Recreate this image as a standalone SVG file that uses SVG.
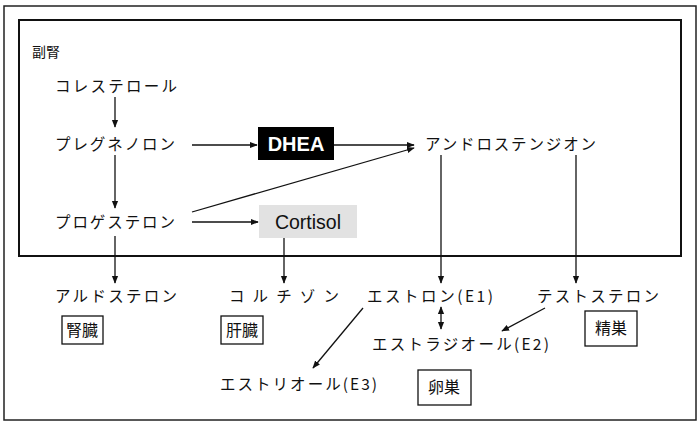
<svg xmlns="http://www.w3.org/2000/svg" width="700" height="426" viewBox="0 0 700 426">
<defs>
<style>
text{font-family:"Noto Sans CJK JP","Liberation Sans",sans-serif;font-size:15.5px;fill:#111}
.en{font-family:"Liberation Sans",Arial,sans-serif}
.ln{stroke:#111;stroke-width:1.3;fill:none}
.bx{fill:#fff;stroke:#111;stroke-width:1.3}
</style>
<marker id="ah" viewBox="0 0 10 10" refX="9" refY="5" markerWidth="6" markerHeight="6" orient="auto-start-reverse"><path d="M0,1 L10,5 L0,9 z" fill="#111"/></marker>
</defs>
<rect x="0" y="0" width="700" height="426" fill="#fff"/>
<rect x="4" y="6" width="692" height="414" fill="none" stroke="#222" stroke-width="1.5"/>
<rect x="19" y="20" width="662" height="236" fill="none" stroke="#111" stroke-width="2"/>
<g id="adrenal"><text x="32" y="57" style="font-size:14px">副腎</text></g>
<g id="cholesterol"><text x="55" y="92" textLength="122">コレステロール</text></g>
<g id="pregnenolone"><text x="55" y="150" textLength="120">プレグネノロン</text></g>
<g id="progesterone"><text x="55" y="228" textLength="120">プロゲステロン</text></g>
<g id="dhea"><rect x="258" y="127" width="76" height="33" fill="#000"/><text class="en" x="296" y="151" text-anchor="middle" style="font-size:20px;fill:#fff;font-weight:bold">DHEA</text></g>
<g id="cortisol"><rect x="259" y="205" width="98" height="33" fill="#e2e2e2"/><text class="en" x="308" y="229" text-anchor="middle" style="font-size:19.5px">Cortisol</text></g>
<g id="androstenedione"><text x="425" y="150" textLength="171">アンドロステンジオン</text></g>
<g id="aldosterone"><text x="55" y="302" textLength="122">アルドステロン</text><rect class="bx" x="62" y="316" width="41" height="28"/><text x="82" y="336" text-anchor="middle" style="font-size:16px">腎臓</text></g>
<g id="cortisone"><text x="229" y="302" textLength="110">コルチゾン</text><rect class="bx" x="221" y="316" width="42" height="28"/><text x="242" y="336" text-anchor="middle" style="font-size:16px">肝臓</text></g>
<g id="estrone"><text x="367" y="302" textLength="126">エストロン(E1)</text></g>
<g id="testosterone"><text x="537" y="302" textLength="122">テストステロン</text><rect class="bx" x="585" y="311" width="52" height="35"/><text x="611" y="334" text-anchor="middle" style="font-size:16px">精巣</text></g>
<g id="estradiol"><text x="372" y="350" textLength="177">エストラジオール(E2)</text></g>
<g id="estriol"><text x="220" y="390" textLength="157">エストリオール(E3)</text></g>
<g id="ovary"><rect class="bx" x="418" y="370" width="53" height="35"/><text x="444" y="393" text-anchor="middle" style="font-size:16px">卵巣</text></g>
<g id="connectors" class="ln">
<line x1="115" y1="97" x2="115" y2="127" marker-end="url(#ah)"/>
<line x1="115" y1="155" x2="115" y2="208" marker-end="url(#ah)"/>
<line x1="192" y1="145" x2="257" y2="145" marker-end="url(#ah)"/>
<line x1="334" y1="145" x2="414" y2="145" marker-end="url(#ah)"/>
<line x1="192" y1="212" x2="414" y2="148" marker-end="url(#ah)"/>
<line x1="192" y1="222" x2="258" y2="222" marker-end="url(#ah)"/>
<line x1="115" y1="236" x2="115" y2="283" marker-end="url(#ah)"/>
<line x1="284" y1="238" x2="284" y2="283" marker-end="url(#ah)"/>
<line x1="441" y1="155" x2="441" y2="283" marker-end="url(#ah)"/>
<line x1="576" y1="155" x2="576" y2="283" marker-end="url(#ah)"/>
<line x1="441" y1="307" x2="441" y2="329" marker-start="url(#ah)" marker-end="url(#ah)"/>
<line x1="545" y1="308" x2="502" y2="331" marker-end="url(#ah)"/>
<line x1="363" y1="308" x2="313" y2="368" marker-end="url(#ah)"/>
</g>
</svg>
